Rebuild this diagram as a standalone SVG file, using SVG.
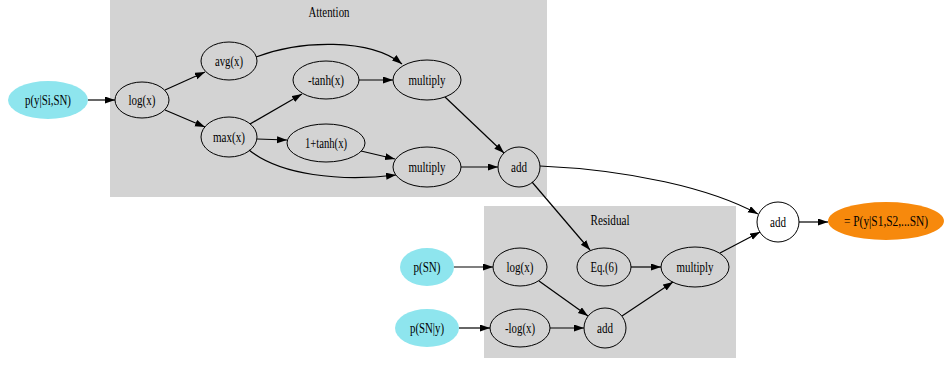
<svg xmlns="http://www.w3.org/2000/svg" width="948" height="367" viewBox="0 0 948 367">
<style>
text{font-family:"Liberation Serif","Times New Roman",serif;font-size:15px;fill:#000;text-anchor:middle}
.n ellipse{fill:none;stroke:#000;stroke-width:1}
.in ellipse{fill:#8ee5ee;stroke:none}
.out ellipse{fill:#f7890c;stroke:none}
.fin ellipse{fill:#fff;stroke:#000;stroke-width:1}
.cl{fill:#d3d3d3;stroke:none}
#edges path{fill:none;stroke:#000;stroke-width:1.2;marker-end:url(#ah)}
</style>
<defs>
<marker id="ah" markerUnits="userSpaceOnUse" markerWidth="11" markerHeight="8" refX="10" refY="3.5" orient="auto">
<path d="M0,0 L10,3.5 L0,7 z" fill="#000"/>
</marker>
</defs>
<rect width="948" height="367" fill="#fff"/>
<g id="cluster_attention">
<rect class="cl" x="110" y="0" width="437" height="197"/>
<text x="329" y="17" textLength="41" lengthAdjust="spacingAndGlyphs">Attention</text>
</g>
<g id="cluster_residual">
<rect class="cl" x="484" y="206" width="252" height="152"/>
<text x="610" y="225" textLength="39" lengthAdjust="spacingAndGlyphs">Residual</text>
</g>
<g id="edges">
<path d="M88,100 L115,100"/>
<path d="M165,90 L205,72"/>
<path d="M165,110 L205,127"/>
<path d="M256,57 C300,40 370,38 402,64"/>
<path d="M250,124 L302,94"/>
<path d="M257,139 L287,140"/>
<path d="M249,150 C280,175 340,182 396,175"/>
<path d="M359,80 L393,80"/>
<path d="M361,151 L395,159"/>
<path d="M461,167 L498,167"/>
<path d="M445,97 L504,153"/>
<path d="M540,166 C630,170 710,188 758,214"/>
<path d="M532,182 L590,250"/>
<path d="M631,267 L661,267"/>
<path d="M720,253 L760,232"/>
<path d="M799,222 L828,222"/>
<path d="M454,267 L493,267"/>
<path d="M459,328 L490,328"/>
<path d="M550,328 L584,328"/>
<path d="M539,281 L588,316"/>
<path d="M622,316 L673,282"/>
</g>
<g id="p_y_si_sn" class="in"><ellipse cx="48" cy="100" rx="40" ry="19"/><text x="48" y="105" textLength="46" lengthAdjust="spacingAndGlyphs">p(y|Si,SN)</text></g>
<g id="log_att" class="n"><ellipse cx="142" cy="100" rx="27" ry="18"/><text x="142" y="105" textLength="27" lengthAdjust="spacingAndGlyphs">log(x)</text></g>
<g id="avg" class="n"><ellipse cx="229" cy="61" rx="28" ry="19"/><text x="229" y="66" textLength="28" lengthAdjust="spacingAndGlyphs">avg(x)</text></g>
<g id="max" class="n"><ellipse cx="229" cy="137" rx="28" ry="20"/><text x="229" y="142" textLength="32" lengthAdjust="spacingAndGlyphs">max(x)</text></g>
<g id="neg_tanh" class="n"><ellipse cx="326" cy="80" rx="33" ry="19"/><text x="326" y="85" textLength="36" lengthAdjust="spacingAndGlyphs">-tanh(x)</text></g>
<g id="one_tanh" class="n"><ellipse cx="326" cy="143" rx="39" ry="19"/><text x="326" y="148" textLength="42" lengthAdjust="spacingAndGlyphs">1+tanh(x)</text></g>
<g id="mult_top" class="n"><ellipse cx="427" cy="80" rx="34" ry="20"/><text x="427" y="85" textLength="37" lengthAdjust="spacingAndGlyphs">multiply</text></g>
<g id="mult_bot" class="n"><ellipse cx="427" cy="167" rx="34" ry="20"/><text x="427" y="172" textLength="37" lengthAdjust="spacingAndGlyphs">multiply</text></g>
<g id="add_att" class="n"><ellipse cx="519" cy="167" rx="21" ry="20"/><text x="519" y="172" textLength="16" lengthAdjust="spacingAndGlyphs">add</text></g>
<g id="p_sn" class="in"><ellipse cx="427" cy="267" rx="27" ry="19"/><text x="427" y="272" textLength="27" lengthAdjust="spacingAndGlyphs">p(SN)</text></g>
<g id="p_sn_y" class="in"><ellipse cx="427" cy="328" rx="32" ry="19"/><text x="427" y="333" textLength="34" lengthAdjust="spacingAndGlyphs">p(SN|y)</text></g>
<g id="log_res" class="n"><ellipse cx="520" cy="267" rx="27" ry="19"/><text x="520" y="272" textLength="27" lengthAdjust="spacingAndGlyphs">log(x)</text></g>
<g id="neg_log" class="n"><ellipse cx="520" cy="328" rx="30" ry="19"/><text x="520" y="333" textLength="30" lengthAdjust="spacingAndGlyphs">-log(x)</text></g>
<g id="eq6" class="n"><ellipse cx="604" cy="267" rx="27" ry="19"/><text x="604" y="272" textLength="27" lengthAdjust="spacingAndGlyphs">Eq.(6)</text></g>
<g id="add_res" class="n"><ellipse cx="605" cy="328" rx="21" ry="20"/><text x="605" y="333" textLength="16" lengthAdjust="spacingAndGlyphs">add</text></g>
<g id="mult_res" class="n"><ellipse cx="695" cy="267" rx="34" ry="20"/><text x="695" y="272" textLength="37" lengthAdjust="spacingAndGlyphs">multiply</text></g>
<g id="add_final" class="fin"><ellipse cx="778" cy="222" rx="21" ry="20"/><text x="778" y="227" textLength="16" lengthAdjust="spacingAndGlyphs">add</text></g>
<g id="output" class="out"><ellipse cx="886" cy="221" rx="58" ry="19"/><text transform="translate(886,226) scale(0.76,1)" x="0" y="0" font-size="14">= P(y|S1,S2,...SN)</text></g>
</svg>
